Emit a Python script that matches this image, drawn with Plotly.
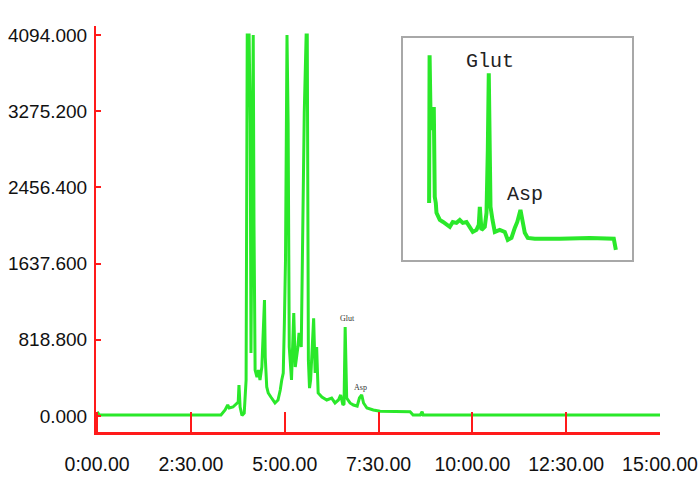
import plotly.graph_objects as go

# ---- main chromatogram (time in minutes, signal) ----
main_time = [0.0, 0.06, 3.30, 3.41, 3.48, 3.52, 3.62, 3.72, 3.76, 3.78, 3.81, 3.86, 3.92, 3.97,
             4.00, 4.05, 4.08, 4.10, 4.16, 4.18, 4.21, 4.26, 4.30, 4.34, 4.39, 4.46, 4.48, 4.52,
             4.56, 4.63, 4.74, 4.82, 4.88, 4.92, 4.96, 4.99, 5.02, 5.06, 5.09, 5.12, 5.18, 5.24,
             5.28, 5.35, 5.38, 5.44, 5.48, 5.52, 5.57, 5.60, 5.63, 5.66, 5.69, 5.77, 5.81, 5.85,
             5.89, 5.99, 6.12, 6.25, 6.34, 6.43, 6.49, 6.55, 6.58, 6.61, 6.65, 6.74, 6.83, 6.93,
             6.99, 7.05, 7.10, 7.19, 7.36, 7.54, 8.34, 8.42, 8.61, 8.66, 8.69, 15.0]
main_signal = [45, 10, 10, 64, 118, 86, 97, 140, 150, 333, 97, 5, 32, 387,
               4094, 4094, 3148, 677, 4094, 2074, 494, 419, 494, 387, 527, 1246, 634, 312,
               247, 204, 140, 172, 279, 387, 462, 999, 1676, 4094, 3148, 741, 387, 1107,
               527, 741, 892, 741, 2074, 3256, 4094, 4094, 600, 300, 387, 1050, 462, 741,
               247, 204, 172, 193, 140, 172, 226, 118, 130, 956, 193, 140, 118, 107,
               193, 226, 140, 86, 64, 50, 45, 10, 10, 45, 10, 10]

# ---- inset (zoom on the Glut / Asp region) ----
inset_time = [5.745, 5.752, 5.769, 5.791, 5.813, 5.827, 5.842, 5.852, 5.900, 5.948, 5.996,
              6.045, 6.088, 6.142, 6.190, 6.233, 6.287, 6.335, 6.378, 6.432, 6.465, 6.480,
              6.504, 6.552, 6.577, 6.596, 6.610, 6.624, 6.635, 6.664, 6.697, 6.769, 6.842,
              6.885, 6.939, 6.987, 7.023, 7.069, 7.103, 7.132, 7.175, 7.277, 7.639, 8.074,
              8.422, 8.452]
inset_signal = [25.7, 92.3, 58.6, 63.1, 68.9, 28.4, 25.7, 21.2, 18.0, 17.1, 15.8,
                14.9, 17.1, 16.7, 18.0, 16.7, 17.1, 14.9, 12.6, 13.5, 15.8, 23.9,
                13.5, 14.9, 21.2, 49.5, 84.2, 49.5, 23.9, 18.0, 12.6, 13.5, 12.6,
                9.0, 9.9, 14.4, 17.1, 22.5, 15.8, 12.2, 9.9, 9.5, 9.5, 9.9,
                9.5, 4.5]

y_ticks = [0.0, 818.8, 1637.6, 2456.4, 3275.2, 4094.0]
y_tick_labels = ["0.000", "818.800", "1637.600", "2456.400", "3275.200", "4094.000"]
x_ticks = [0, 2.5, 5, 7.5, 10, 12.5, 15]
x_tick_labels = ["0:00.00", "2:30.00", "5:00.00", "7:30.00", "10:00.00", "12:30.00", "15:00.00"]

peak_names = ["Glut", "Asp"]
main_label_pos = [(6.66, 1053), (7.03, 301)]
inset_label_pos = [(6.624, 89.6), (7.132, 29.3)]

GREEN = "#2ae82a"
RED = "#ff1a1a"
FAMILY = "Liberation Sans, Arial, sans-serif"

fig = go.Figure()
fig.add_trace(go.Scatter(x=main_time, y=main_signal, mode="lines",
                         line=dict(color=GREEN, width=3), xaxis="x", yaxis="y",
                         showlegend=False, hoverinfo="skip"))
fig.add_trace(go.Scatter(x=inset_time, y=inset_signal, mode="lines",
                         line=dict(color=GREEN, width=4), xaxis="x2", yaxis="y2",
                         showlegend=False, hoverinfo="skip"))

annotations = []
for name, (t, v) in zip(peak_names, main_label_pos):
    annotations.append(dict(x=t, y=v, xref="x", yref="y", text=name, showarrow=False,
                            font=dict(family="Liberation Serif, serif", size=8, color="#333333")))
for name, (t, v) in zip(peak_names, inset_label_pos):
    annotations.append(dict(x=t, y=v, xref="x2", yref="y2", text=name, showarrow=False,
                            font=dict(family="Liberation Mono, Courier New, monospace", size=20,
                                      color="#222222")))

fig.update_layout(
    width=699, height=498,
    margin=dict(l=96, r=39, t=26, b=66),
    paper_bgcolor="white", plot_bgcolor="white",
    showlegend=False,
    xaxis=dict(range=[-0.03, 15.0], tickvals=x_ticks, ticktext=x_tick_labels,
               showline=True, linecolor=RED, linewidth=3, mirror=False,
               ticks="inside", ticklen=20, tickwidth=2, tickcolor=RED, tickangle=0,
               automargin=False, showgrid=False, zeroline=False, ticklabeloverflow="allow",
               tickfont=dict(family=FAMILY, size=19.5, color="#111111"), ticklabelstandoff=13),
    yaxis=dict(range=[-172, 4191], tickvals=y_ticks, ticktext=y_tick_labels,
               showline=True, linecolor=RED, linewidth=2, mirror=False,
               ticks="inside", ticklen=5, tickwidth=2, tickcolor=RED,
               automargin=False, showgrid=False, zeroline=False, ticklabeloverflow="allow",
               tickfont=dict(family=FAMILY, size=19, color="#111111"), ticklabelstandoff=3),
    xaxis2=dict(domain=[0.544, 0.950], anchor="y2", range=[5.364, 8.683],
                showline=True, mirror=True, linecolor="#a8a8a8", linewidth=1.5,
                showticklabels=False, ticks="", showgrid=False, zeroline=False),
    yaxis2=dict(domain=[0.424, 0.970], anchor="x2", range=[0, 100],
                showline=True, mirror=True, linecolor="#a8a8a8", linewidth=1.5,
                showticklabels=False, ticks="", showgrid=False, zeroline=False),
    annotations=annotations,
)

fig.write_html("out.html", config={"displayModeBar": False},
               post_script="document.body.style.margin='0px';document.body.style.padding='0px';")
